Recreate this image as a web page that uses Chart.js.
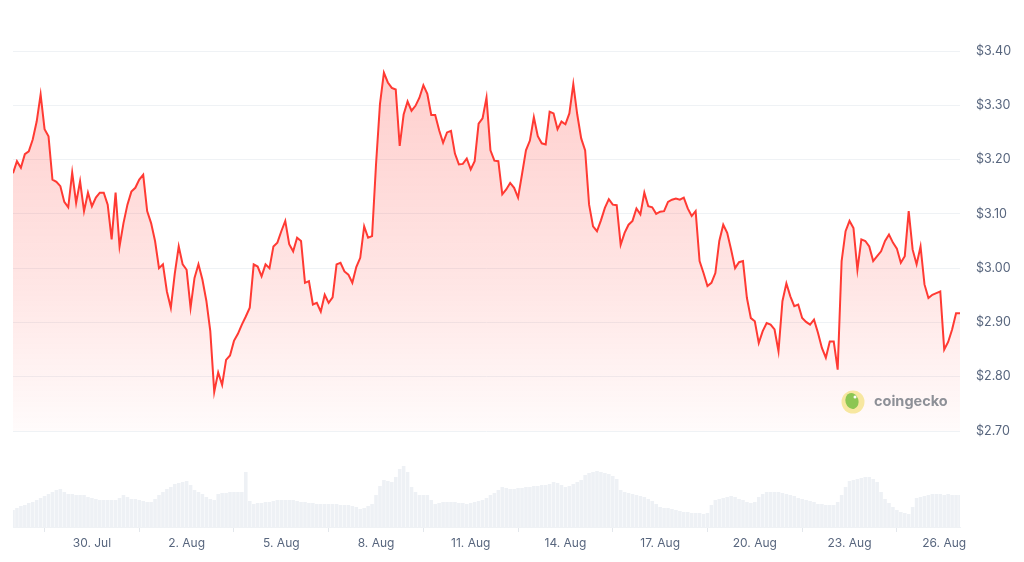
<!DOCTYPE html>
<html lang="en">
<head>
    <meta charset="UTF-8">
    <title>Price chart</title>
    <script src="https://cdn.jsdelivr.net/npm/chart.js"></script>
    <style>
        html, body { margin: 0; padding: 0; background: #ffffff; }
        #wrap { width: 1024px; height: 562px; position: relative; }
    </style>
</head>
<body>
    <div id="wrap"><canvas id="priceChart"></canvas></div>

    <script>
        // one point every 3 hours, starting 27 Jul 12:00 (x in days from 27 Jul 00:00)
        const startDay = 0.5;
        const stepDays = 0.125;

        const prices = [
            3.175, 3.197, 3.185, 3.21, 3.215, 3.237, 3.27, 3.32, 3.256, 3.243,
            3.163, 3.159, 3.151, 3.122, 3.112, 3.176, 3.12, 3.16, 3.105, 3.139,
            3.114, 3.13, 3.139, 3.139, 3.117, 3.053, 3.139, 3.04, 3.083, 3.117,
            3.141, 3.148, 3.163, 3.172, 3.105, 3.083, 3.05, 3.0, 3.007, 2.957,
            2.927, 2.99, 3.04, 3.007, 2.997, 2.927, 2.982, 3.007, 2.979, 2.94,
            2.884, 2.772, 2.808, 2.785, 2.831, 2.839, 2.866, 2.879, 2.896, 2.911,
            2.927, 3.007, 3.003, 2.985, 3.007, 3.0, 3.04, 3.047, 3.068, 3.087,
            3.044, 3.031, 3.056, 3.05, 2.973, 2.976, 2.933, 2.936, 2.92, 2.951,
            2.936, 2.946, 3.007, 3.01, 2.994, 2.988, 2.973, 3.002, 3.019, 3.077,
            3.056, 3.059, 3.191, 3.302, 3.36, 3.342, 3.332, 3.329, 3.225, 3.283,
            3.307, 3.29, 3.299, 3.314, 3.337, 3.321, 3.282, 3.282, 3.254, 3.231,
            3.25, 3.253, 3.211, 3.191, 3.192, 3.202, 3.182, 3.197, 3.266, 3.276,
            3.314, 3.217, 3.198, 3.197, 3.136, 3.145, 3.157, 3.148, 3.13, 3.173,
            3.217, 3.235, 3.278, 3.243, 3.23, 3.228, 3.288, 3.285, 3.256, 3.27,
            3.265, 3.285, 3.339, 3.283, 3.239, 3.217, 3.117, 3.077, 3.068, 3.088,
            3.111, 3.127, 3.117, 3.116, 3.043, 3.065, 3.08, 3.087, 3.11, 3.099,
            3.139, 3.114, 3.112, 3.1, 3.104, 3.105, 3.122, 3.126, 3.128, 3.126,
            3.13, 3.11, 3.096, 3.105, 3.013, 2.991, 2.967, 2.973, 2.991, 3.05,
            3.08, 3.065, 3.034, 3.0, 3.011, 3.013, 2.945, 2.908, 2.902, 2.862,
            2.884, 2.899, 2.896, 2.887, 2.847, 2.939, 2.972, 2.948, 2.93, 2.933,
            2.908, 2.901, 2.896, 2.905, 2.881, 2.853, 2.835, 2.865, 2.865, 2.813,
            3.013, 3.068, 3.087, 3.074, 2.997, 3.053, 3.05, 3.04, 3.013, 3.022,
            3.031, 3.05, 3.062, 3.047, 3.036, 3.01, 3.022, 3.105, 3.034, 3.007,
            3.04, 2.97, 2.945, 2.951, 2.954, 2.957, 2.85, 2.864, 2.887, 2.917,
            2.917
        ];

        const volumes = [
            17, 19, 21, 22, 24, 25, 27, 29, 31, 33,
            35, 37, 38, 35, 33, 33, 32, 32, 32, 30,
            29, 28, 27, 27, 27, 27, 27, 29, 32, 30,
            28, 28, 27, 26, 25, 25, 28, 32, 35, 38,
            40, 43, 44, 45, 46, 42, 37, 35, 33, 30,
            28, 27, 33, 34, 34, 35, 35, 35, 35, 55,
            26, 23, 24, 24, 25, 25, 26, 27, 27, 27,
            27, 27, 26, 25, 25, 24, 24, 23, 23, 23,
            23, 23, 23, 22, 22, 22, 21, 20, 18, 19,
            21, 23, 32, 41, 47, 46, 45, 50, 58, 61,
            55, 40, 35, 32, 32, 32, 27, 23, 24, 25,
            25, 25, 25, 24, 24, 23, 24, 25, 26, 27,
            29, 32, 34, 37, 40, 39, 38, 38, 39, 39,
            40, 40, 41, 41, 42, 42, 43, 45, 44, 42,
            40, 41, 43, 45, 47, 52, 54, 55, 56, 55,
            54, 53, 51, 48, 37, 35, 34, 33, 32, 31,
            30, 28, 26, 23, 20, 19, 19, 18, 17, 16,
            15, 15, 14, 14, 14, 13, 14, 22, 27, 28,
            29, 30, 31, 30, 28, 27, 25, 24, 25, 30,
            33, 35, 35, 35, 35, 34, 33, 32, 31, 29,
            28, 27, 26, 25, 23, 23, 22, 22, 22, 25,
            32, 40, 46, 47, 48, 49, 50, 50, 48, 45,
            35, 28, 24, 20, 17, 15, 14, 13, 20, 29,
            30, 31, 32, 33, 33, 33, 32, 33, 32, 32,
            32
        ];

        const priceTicks = [2.70, 2.80, 2.90, 3.00, 3.10, 3.20, 3.30, 3.40];
        const dateTickDays = [3, 6, 9, 12, 15, 18, 21, 24, 27, 30];
        const dateTickLabels = ['30. Jul', '2. Aug', '5. Aug', '8. Aug', '11. Aug', '14. Aug', '17. Aug', '20. Aug', '23. Aug', '26. Aug'];

        const priceData = prices.map((p, i) => ({ x: startDay + i * stepDays, y: p }));
        const volumeData = volumes.map((v, i) => ({ x: startDay + i * stepDays, y: v }));

        const watermark = {
            id: 'watermark',
            afterDatasetsDraw(chart) {
                const ctx = chart.ctx;
                ctx.save();
                ctx.fillStyle = '#f7e7a0';
                ctx.beginPath();
                ctx.arc(853, 402, 11.5, 0, Math.PI * 2);
                ctx.fill();
                ctx.fillStyle = '#8cc653';
                ctx.beginPath();
                ctx.ellipse(852, 401, 6.5, 8, -0.3, 0, Math.PI * 2);
                ctx.fill();
                ctx.fillStyle = '#ffffff';
                ctx.beginPath();
                ctx.arc(855, 397, 1.5, 0, Math.PI * 2);
                ctx.fill();
                ctx.fillStyle = '#8d9097';
                ctx.font = 'bold 14.5px Inter, "Noto Sans", sans-serif';
                ctx.textBaseline = 'middle';
                ctx.fillText('coingecko', 874, 402);
                ctx.restore();
            }
        };

        const ctx = document.getElementById('priceChart').getContext('2d');
        const fillGradient = ctx.createLinearGradient(0, 60, 0, 431);
        fillGradient.addColorStop(0, 'rgba(255, 58, 51, 0.25)');
        fillGradient.addColorStop(0.6, 'rgba(255, 58, 51, 0.13)');
        fillGradient.addColorStop(1, 'rgba(255, 58, 51, 0.02)');

        new Chart(ctx, {
            type: 'line',
            data: {
                datasets: [{
                    label: 'Price',
                    data: priceData,
                    yAxisID: 'y',
                    borderColor: '#ff3a33',
                    borderWidth: 2,
                    pointRadius: 0,
                    tension: 0,
                    fill: { value: 2.70 },
                    backgroundColor: fillGradient,
                    order: 1
                }, {
                    type: 'bar',
                    label: 'Volume',
                    data: volumeData,
                    yAxisID: 'yVol',
                    backgroundColor: '#eef1f5',
                    barPercentage: 0.9,
                    categoryPercentage: 1,
                    order: 2
                }]
            },
            options: {
                responsive: true,
                maintainAspectRatio: false,
                animation: false,
                layout: { padding: { top: 51, left: 13, right: 0, bottom: 0 } },
                plugins: {
                    legend: { display: false },
                    tooltip: { enabled: false }
                },
                scales: {
                    x: {
                        type: 'linear',
                        min: 0.5,
                        max: 30.5,
                        offset: false,
                        afterBuildTicks: (scale) => {
                            scale.ticks = dateTickDays.map(v => ({ value: v }));
                        },
                        afterFit: (scale) => { scale.height = 35; },
                        ticks: {
                            autoSkip: false,
                            maxRotation: 0,
                            padding: 4,
                            color: '#58667e',
                            font: { family: 'Inter, "Noto Sans", sans-serif', size: 12 },
                            callback: (value) => dateTickLabels[dateTickDays.indexOf(value)]
                        },
                        grid: {
                            drawOnChartArea: false,
                            drawTicks: true,
                            tickLength: 5,
                            color: '#e3e7ec'
                        },
                        border: { display: true, color: '#eff2f5' }
                    },
                    y: {
                        position: 'right',
                        min: 2.52316,
                        max: 3.40,
                        afterBuildTicks: (scale) => {
                            scale.ticks = priceTicks.map(v => ({ value: v }));
                        },
                        afterFit: (scale) => { scale.width = 64; },
                        ticks: {
                            padding: 16,
                            color: '#58667e',
                            font: { family: 'Inter, "Noto Sans", sans-serif', size: 12.5 },
                            callback: (value) => '$' + value.toFixed(2)
                        },
                        grid: { color: '#eff2f5', drawTicks: false },
                        border: { display: false }
                    },
                    yVol: {
                        display: false,
                        min: 0,
                        max: 476
                    }
                }
            },
            plugins: [watermark]
        });
    </script>
</body>
</html>
